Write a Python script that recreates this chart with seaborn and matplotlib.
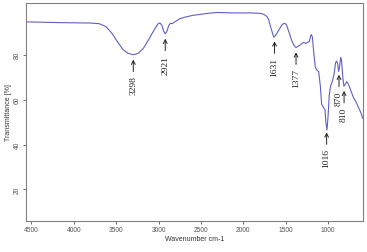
import numpy as np
import pandas as pd
import matplotlib
matplotlib.use("Agg")
import matplotlib.pyplot as plt
import seaborn as sns

# FTIR spectrum (wavenumber cm-1, transmittance %)
wavenumber = [4560, 4400, 4200, 4000, 3800, 3700, 3620, 3550, 3480, 3420,
              3360, 3298, 3240, 3180, 3120, 3060, 3010, 2985, 2960, 2940,
              2921, 2900, 2880, 2860, 2840, 2800, 2750, 2700, 2600, 2500,
              2400, 2300, 2200, 2100, 2000, 1900, 1800, 1760, 1720, 1700,
              1670, 1640, 1620, 1580, 1540, 1510, 1490, 1460, 1430, 1400,
              1377, 1350, 1320, 1290, 1260, 1240, 1220, 1200, 1185, 1165,
              1150, 1130, 1110, 1090, 1075, 1055, 1035, 1025, 1012, 1000,
              985, 970, 950, 930, 910, 898, 885, 875, 865, 850,
              840, 825, 812, 800, 780, 760, 730, 700, 670, 640,
              610, 590]
transmittance = [94.6, 94.5, 94.3, 94.2, 94.1, 93.8, 92.5, 89.5, 85.5, 82.3,
                 80.6, 80.0, 80.6, 82.8, 86.5, 90.5, 93.6, 94.2, 93.0, 90.5,
                 89.3, 90.5, 93.0, 94.0, 93.8, 94.8, 96.0, 96.6, 97.5, 98.0,
                 98.5, 98.8, 98.7, 98.6, 98.6, 98.6, 98.4, 98.0, 97.0, 95.5,
                 91.5, 87.8, 88.5, 91.0, 93.5, 94.0, 93.3, 90.0, 86.5, 84.0,
                 83.2, 83.8, 84.5, 85.5, 85.0, 85.5, 86.0, 89.0, 88.0, 80.0,
                 74.5, 73.0, 72.5, 66.0, 58.0, 56.5, 55.5, 50.0, 46.5, 52.0,
                 62.0, 66.0, 68.0, 71.0, 76.5, 77.2, 76.0, 72.5, 74.0, 78.8,
                 77.5, 70.0, 66.0, 66.5, 68.0, 67.0, 64.0, 61.0, 59.0, 56.5,
                 54.0, 51.6]

# labelled bands
peak_labels = [3298, 2921, 1631, 1377, 1016, 870, 810]

df = pd.DataFrame({"wn": wavenumber, "T": transmittance})

sns.set_style("white")
plt.rcParams["font.family"] = ["Liberation Sans", "DejaVu Sans"]

fig = plt.figure(figsize=(3.67, 2.53), dpi=100)
ax = fig.add_axes([0.071, 0.123, 0.918, 0.861])

sns.lineplot(data=df, x="wn", y="T", sort=False, color="#5f5fc8",
             linewidth=0.8, ax=ax)

ax.set_xlim(4564, 587)
ax.set_ylim(6, 103)
ax.set_xticks([4500, 4000, 3500, 3000, 2500, 2000, 1500, 1000])
ax.set_yticks([20, 40, 60, 80])
ax.tick_params(axis="both", labelsize=4.8, length=2.5, width=0.6,
               colors="#555555", pad=1.5, direction="out")
ax.tick_params(axis="both", bottom=True, left=True)
for lab in ax.get_yticklabels():
    lab.set_rotation(90)
    lab.set_va("center")
for s in ax.spines.values():
    s.set_color("#808080")
    s.set_linewidth(0.8)

ax.set_xlabel("Wavenumber cm-1", fontsize=5, color="#333333", labelpad=1)
ax.set_ylabel("Transmittance [%]", fontsize=5, color="#333333", labelpad=1)

# arrows + rotated labels under each band
for wn in peak_labels:
    yv = np.interp(wn, wavenumber[::-1], transmittance[::-1])
    ax.annotate(str(wn), xy=(wn, yv), xycoords="data",
                xytext=(0, -15), textcoords="offset points",
                rotation=90, ha="center", va="top", fontsize=6.8,
                family=["Liberation Serif", "DejaVu Serif"], color="#222222",
                arrowprops=dict(arrowstyle="->", color="#222222", lw=0.7,
                                shrinkA=0.5, shrinkB=3.5))

fig.savefig("out.png", dpi=100)
